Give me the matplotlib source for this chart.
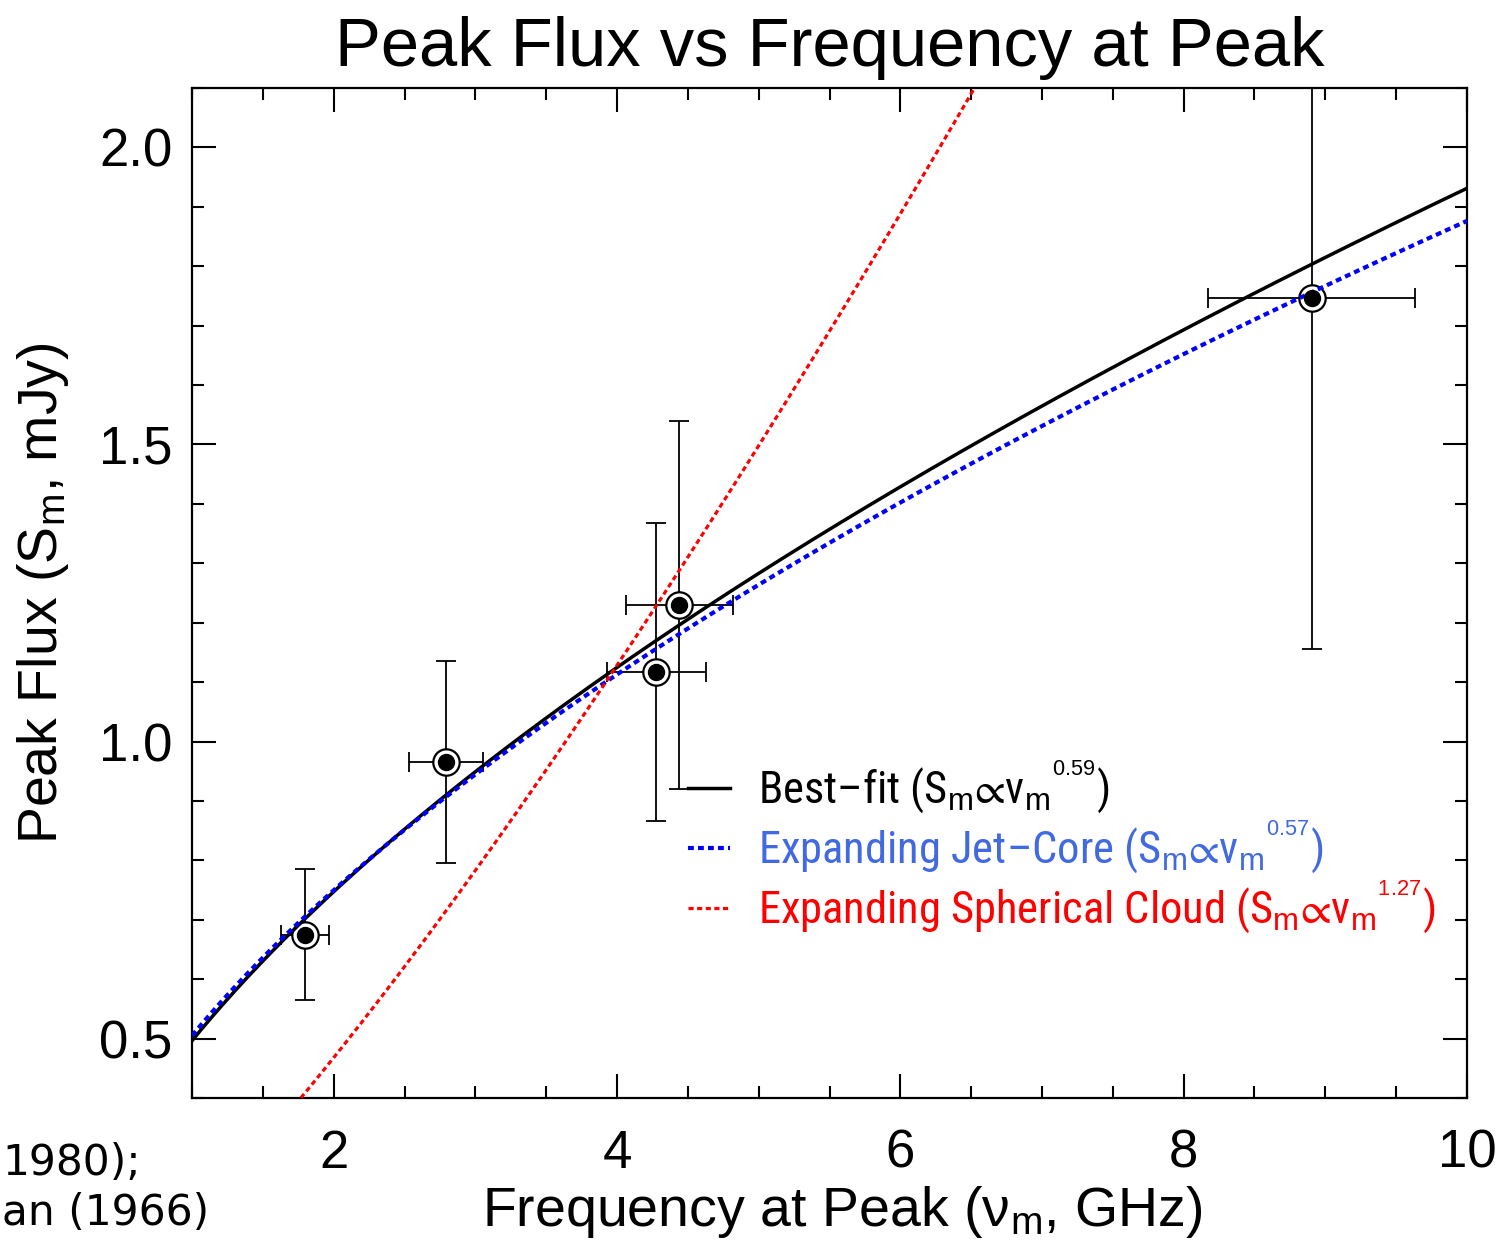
import numpy as np
import matplotlib
matplotlib.use("Agg")
import matplotlib.pyplot as plt
from matplotlib import font_manager

# ---- data ----
freq_peak = [1.795, 2.795, 4.276, 4.44, 8.905]
flux_peak = [0.675, 0.966, 1.117, 1.230, 1.746]
freq_err = [0.17, 0.26, 0.35, 0.38, 0.73]
flux_err = [0.11, 0.17, 0.25, 0.31, 0.59]

# power-law models S = norm * nu^index
model_names = ["Best\u2013fit", "Expanding Jet\u2013Core", "Expanding Spherical Cloud"]
model_norm = [0.4964, 0.505, 0.194]
model_index = [0.59, 0.57, 1.27]
model_index_labels = ["0.59", "0.57", "1.27"]

x_ticks = [2, 4, 6, 8, 10]
y_ticks = [0.5, 1.0, 1.5, 2.0]

names = {f.name for f in font_manager.fontManager.ttflist}
narrow = 'Liberation Sans'
for cand in ['Liberation Sans Narrow', 'Arial Narrow', 'Roboto Condensed', 'PT Sans Narrow',
             'Archivo Narrow', 'Pragati Narrow', 'Encode Sans Condensed', 'Open Sans Condensed']:
    if cand in names:
        narrow = cand
        break

plt.rcParams['font.family'] = ['Liberation Sans', 'DejaVu Sans']
plt.rcParams['mathtext.fontset'] = 'custom'
plt.rcParams['mathtext.rm'] = 'Liberation Sans'
plt.rcParams['mathtext.it'] = 'Liberation Sans:italic'
plt.rcParams['mathtext.sf'] = 'Liberation Sans'

fig = plt.figure(figsize=(15.02, 12.51), dpi=100)
ax = fig.add_axes([192/1502, 1 - 1098/1251, (1467-192)/1502, (1098-88)/1251])

ax.set_xlim(1, 10)
ax.set_ylim(0.4, 2.1)

nu = np.linspace(1, 10, 400)
line_styles = [dict(color='black', lw=2.5, ls='-'),
               dict(color='#0000ff', lw=3.0, ls=(0, (1.4, 1.0))),
               dict(color='#ff0000', lw=2.3, ls=(0, (1.6, 1.1)))]
label_colors = ['black', '#4169e1', '#ff0000']

handles = []
for name, nrm, idx, lab, st in zip(model_names, model_norm, model_index, model_index_labels, line_styles):
    label = name + " (S$_{\\rm m}$$\u221d$\u03bd$_{\\rm m}{}^{{}^{\\rm %s}}$)" % lab
    h, = ax.plot(nu, nrm * nu ** idx, zorder=3, label=label, **st)
    handles.append(h)

ax.errorbar(freq_peak, flux_peak, xerr=freq_err, yerr=flux_err, fmt='none',
            ecolor='black', elinewidth=1.3, capsize=7, capthick=1.3, zorder=1)
ax.plot(freq_peak, flux_peak, 'o', ms=19, mfc='white', mec='black', mew=1.6, ls='none', zorder=2)
ax.plot(freq_peak, flux_peak, 'o', ms=11.5, mfc='black', mec='black', ls='none', zorder=4)

leg = ax.legend(handles=handles, loc='upper left', bbox_to_anchor=(688/1502, 1 - 759/1251),
                bbox_transform=fig.transFigure, frameon=False,
                prop={'family': narrow, 'size': 32},
                handlelength=0.95, handletextpad=0.62, labelspacing=0.06,
                borderpad=0, borderaxespad=0)
for t, c in zip(leg.get_texts(), label_colors):
    t.set_color(c)

ax.set_xticks(x_ticks)
ax.set_xticklabels([str(v) for v in x_ticks])
ax.set_yticks(y_ticks)
ax.set_yticklabels(["%.1f" % v for v in y_ticks])
ax.xaxis.set_minor_locator(matplotlib.ticker.MultipleLocator(0.5))
ax.yaxis.set_minor_locator(matplotlib.ticker.MultipleLocator(0.1))
ax.tick_params(which='both', direction='in', top=True, right=True, width=1.5)
ax.tick_params(which='major', length=17, labelsize=38)
ax.tick_params(axis='x', which='major', pad=22)
ax.tick_params(axis='y', which='major', pad=14)
ax.tick_params(which='minor', length=8.5)
for s in ax.spines.values():
    s.set_linewidth(1.6)

ax.set_title("Peak Flux vs Frequency at Peak", fontsize=49.5, pad=16)
ax.set_xlabel("Frequency at Peak (\u03bd$_{\\rm m}$, GHz)", fontsize=40, labelpad=8)
ax.xaxis.set_label_coords(0.51, -0.085)
ax.set_ylabel("Peak Flux (S$_{\\rm m}$, mJy)", fontsize=40, labelpad=20)

fig.text(2/1502, 1 - 1175/1251, "1980);", family='DejaVu Sans', fontsize=30.5, ha='left', va='baseline')
fig.text(2/1502, 1 - 1225/1251, "an (1966)", family='DejaVu Sans', fontsize=30.5, ha='left', va='baseline')

fig.savefig("out.png", dpi=100)
